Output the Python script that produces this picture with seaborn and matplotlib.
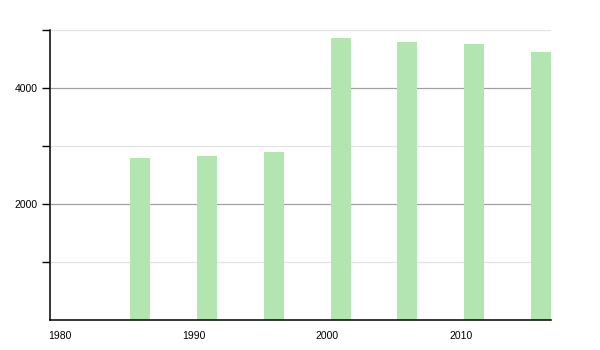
import matplotlib
matplotlib.use("Agg")
import matplotlib.pyplot as plt
from matplotlib.ticker import FixedLocator
import seaborn as sns
import pandas as pd

years = [1986, 1991, 1996, 2001, 2006, 2011, 2016]
population = [2800, 2835, 2890, 4860, 4790, 4760, 4625]
x_ticks = [1980, 1990, 2000, 2010]
y_major = [2000, 4000]
y_minor = [1000, 3000, 5000]

sns.set_theme(style="white")
plt.rcParams["font.family"] = ["Liberation Sans", "DejaVu Sans"]

df = pd.DataFrame({"year": years, "population": population})

fig = plt.figure(figsize=(6, 3.5), dpi=100)
ax = fig.add_axes([50/600, 30/350, 501/600, 290/350])

sns.barplot(data=df, x="year", y="population", native_scale=True, width=0.3,
            color="#b2e5b0", saturation=1, edgecolor="none", ax=ax, zorder=2)

ax.set_xlim(1979.25, 2016.75)
ax.set_ylim(0, 5000)
ax.xaxis.set_major_locator(FixedLocator(x_ticks))
ax.yaxis.set_major_locator(FixedLocator(y_major))
ax.yaxis.set_minor_locator(FixedLocator(y_minor))
ax.set_xticklabels([str(t) for t in x_ticks])
ax.set_yticklabels([str(t) for t in y_major])

ax.grid(False)
for v in y_major:
    ax.axhline(v, color="#a0a0a0", lw=0.9, zorder=1)
for v in y_minor:
    ax.axhline(v, color="#e2e2e2", lw=0.9, zorder=1)

ax.set_xlabel("")
ax.set_ylabel("")
for s in ["top", "right"]:
    ax.spines[s].set_visible(False)
for s in ["left", "bottom"]:
    ax.spines[s].set_color("black")
    ax.spines[s].set_linewidth(1.1)

ax.tick_params(axis="y", which="both", left=True, length=6, width=1, color="black",
               labelsize=7.5, pad=3, labelcolor="black")
ax.tick_params(axis="x", which="both", bottom=False, labelsize=7.5, pad=2,
               labelcolor="black")

fig.savefig("out.png", dpi=100)
